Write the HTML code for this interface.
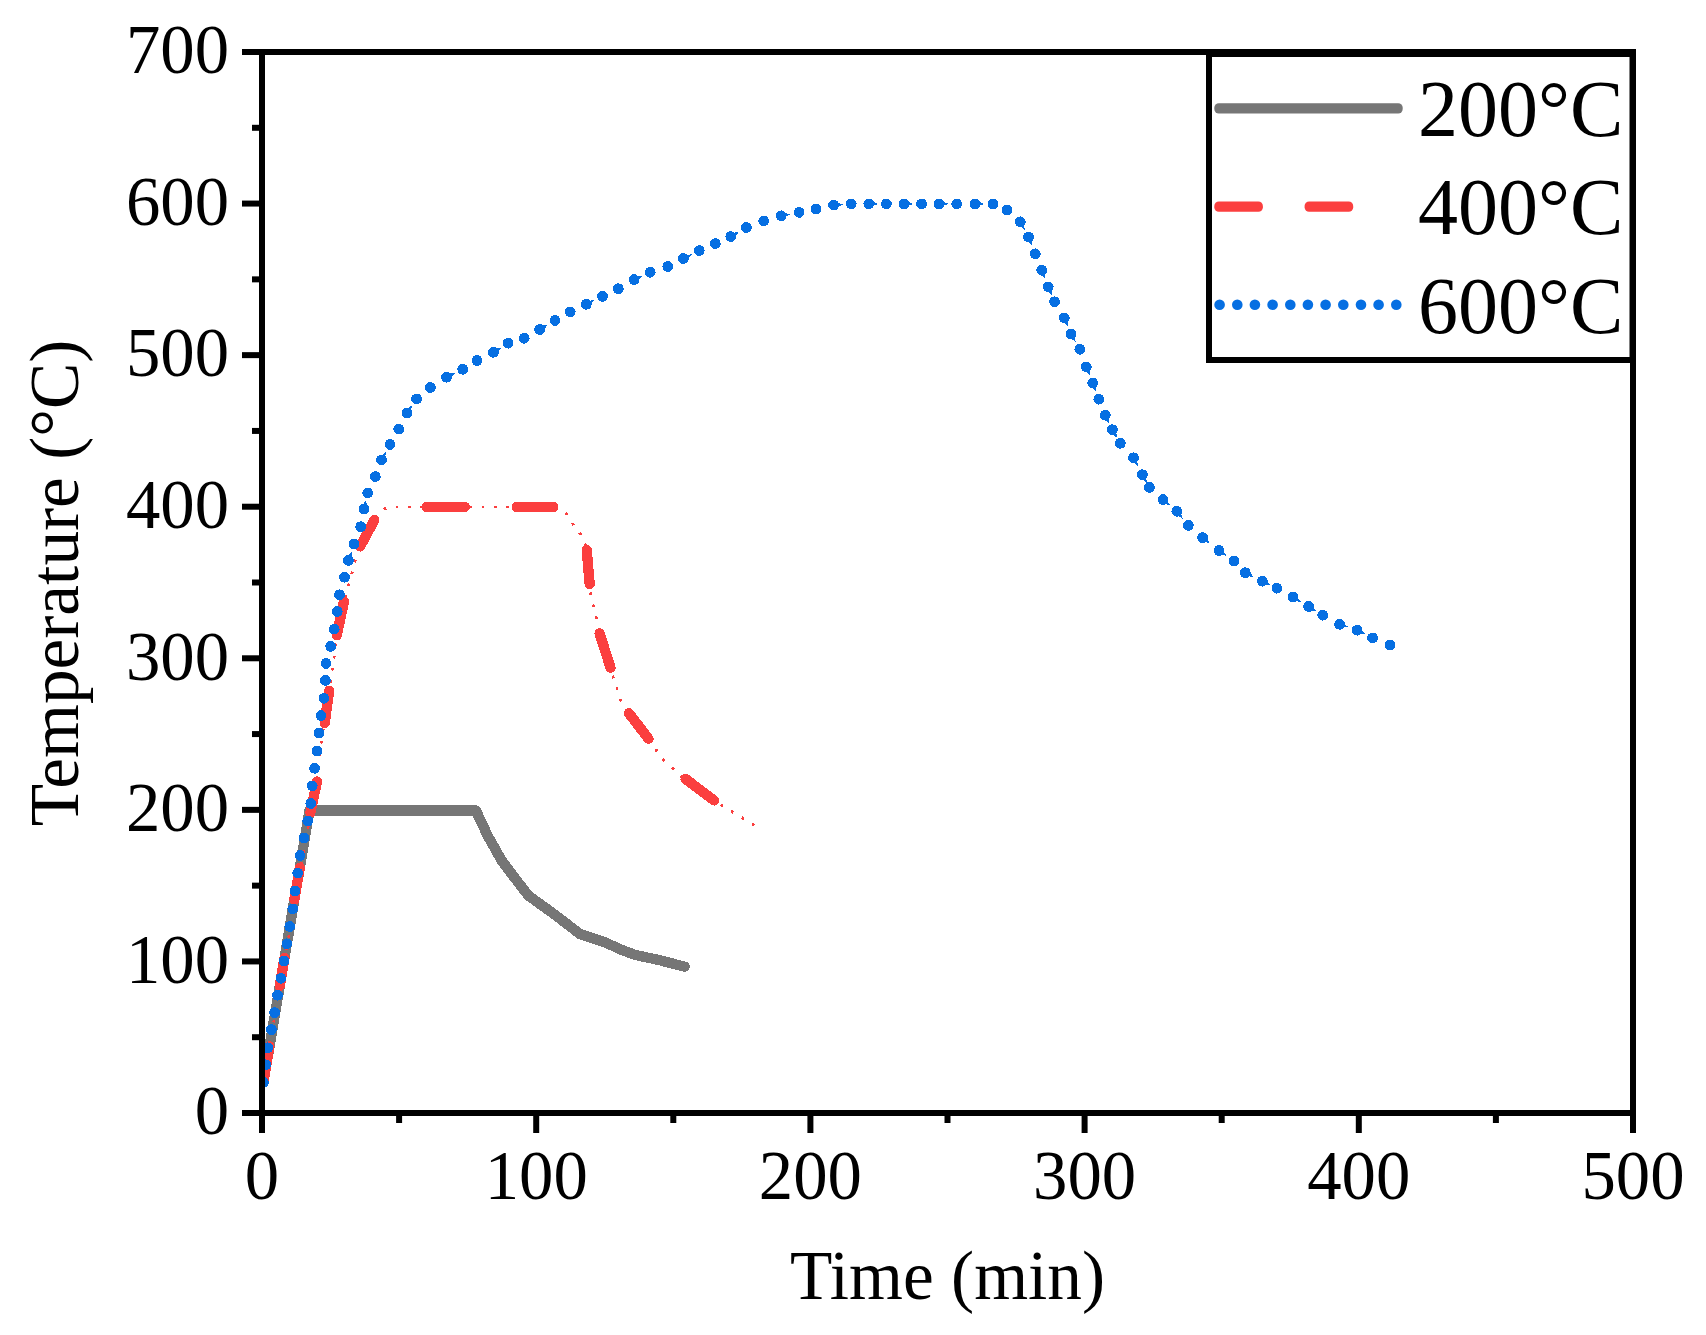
<!DOCTYPE html>
<html lang="en"><head><meta charset="utf-8"><title>Temperature vs Time</title>
<style>
html,body{margin:0;padding:0;background:#fff;}
body{width:1706px;height:1335px;overflow:hidden;}
svg{display:block;}
text{font-family:"Liberation Serif", "Times New Roman", serif;fill:#000;}
.tk{font-size:70.5px;}
.tt{font-size:69.3px;}
.lg{font-size:80px;}
</style></head><body>
<svg width="1706" height="1335" viewBox="0 0 1706 1335">
<rect width="1706" height="1335" fill="#fff"/>
<defs><clipPath id="plot"><rect x="262" y="52" width="1371" height="1061"/></clipPath></defs>

<g clip-path="url(#plot)" shape-rendering="crispEdges">
<polyline fill="none" stroke="#767676" stroke-width="10.3" stroke-linejoin="round" stroke-linecap="round" points="263.4,1082.4 309.5,810.5 475.9,810.5 487.8,836.0 501.8,860.8 514.2,877.2 528.2,895.4 555.4,915.1 580.1,934.1 604.8,942.3 621.3,949.7 634.5,954.7 660.8,960.5 684.7,966.7"/>
<polyline fill="none" stroke="#FB3F3F" stroke-width="2.8" stroke-dasharray="2.8 9.5" points="263.0,1083.0 310.8,812.0 328.4,694.5 340.1,618.3 357.7,550.9 366.5,533.3 376.7,515.7 381.0,510.5 387.0,507.8 395.0,506.9 558.4,506.9 565.0,511.0 568.7,518.6 576.0,528.0 581.9,536.2 586.3,547.9 588.0,566.0 589.2,586.0 592.5,603.0 596.5,618.3 599.5,630.0 611.2,671.0 621.4,701.8 627.3,710.6 650.7,741.4 661.0,757.5 683.0,778.0 716.7,802.3 756.3,826.4"/>
<rect x="0" y="-5.15" width="45.0" height="10.3" rx="5.1" fill="#FB3F3F" transform="translate(262.8,1085.8) rotate(-80.38)"/>
<rect x="0" y="-5.15" width="38.8" height="10.3" rx="5.1" fill="#FB3F3F" transform="translate(278.9,991.0) rotate(-80.38)"/>
<rect x="0" y="-5.15" width="42.6" height="10.3" rx="5.1" fill="#FB3F3F" transform="translate(293.5,904.7) rotate(-80.38)"/>
<rect x="0" y="-5.15" width="42.0" height="10.3" rx="5.1" fill="#FB3F3F" transform="translate(309.3,817.6) rotate(-77.91)"/>
<rect x="0" y="-5.15" width="42.9" height="10.3" rx="5.1" fill="#FB3F3F" transform="translate(324.0,728.2) rotate(-82.23)"/>
<rect x="0" y="-5.15" width="44.9" height="10.3" rx="5.1" fill="#FB3F3F" transform="translate(335.7,640.2) rotate(-77.91)"/>
<rect x="0" y="-5.15" width="40.0" height="10.3" rx="5.1" fill="#FB3F3F" transform="translate(357.7,550.9) rotate(-61.64)"/>
<rect x="0" y="-5.15" width="48.3" height="10.3" rx="5.1" fill="#FB3F3F" transform="translate(421.6,506.9) rotate(0.00)"/>
<rect x="0" y="-5.15" width="46.9" height="10.3" rx="5.1" fill="#FB3F3F" transform="translate(511.5,506.9) rotate(0.00)"/>
<rect x="0" y="-5.15" width="44.2" height="10.3" rx="5.1" fill="#FB3F3F" transform="translate(586.3,545.0) rotate(85.06)"/>
<rect x="0" y="-5.15" width="46.2" height="10.3" rx="5.1" fill="#FB3F3F" transform="translate(598.0,628.5) rotate(72.23)"/>
<rect x="0" y="-5.15" width="42.4" height="10.3" rx="5.1" fill="#FB3F3F" transform="translate(625.8,709.1) rotate(52.56)"/>
<rect x="0" y="-5.15" width="45.9" height="10.3" rx="5.1" fill="#FB3F3F" transform="translate(681.5,775.9) rotate(36.94)"/>
<g fill="#066FE2"><circle cx="263.4" cy="1082.4" r="5.4"/><circle cx="265.8" cy="1064.8" r="5.4"/><circle cx="267.8" cy="1047.8" r="5.4"/><circle cx="271.4" cy="1029.6" r="5.4"/><circle cx="274.6" cy="1012.6" r="5.4"/><circle cx="277.5" cy="995.3" r="5.4"/><circle cx="281.0" cy="978.3" r="5.4"/><circle cx="284.0" cy="961.0" r="5.4"/><circle cx="286.9" cy="943.8" r="5.4"/><circle cx="289.8" cy="926.5" r="5.4"/><circle cx="292.8" cy="908.9" r="5.4"/><circle cx="295.1" cy="891.0" r="5.4"/><circle cx="297.7" cy="873.1" r="5.4"/><circle cx="300.1" cy="855.5" r="5.4"/><circle cx="304.0" cy="838.0" r="5.4"/><circle cx="307.8" cy="821.0" r="5.4"/><circle cx="310.8" cy="803.5" r="5.4"/><circle cx="312.2" cy="785.9" r="5.4"/><circle cx="314.6" cy="768.3" r="5.4"/><circle cx="316.9" cy="751.0" r="5.4"/><circle cx="319.0" cy="733.2" r="5.4"/><circle cx="321.0" cy="715.6" r="5.4"/><circle cx="324.0" cy="698.3" r="5.4"/><circle cx="325.4" cy="680.4" r="5.4"/><circle cx="326.0" cy="663.4" r="5.4"/><circle cx="330.7" cy="646.4" r="5.4"/><circle cx="334.2" cy="629.1" r="5.4"/><circle cx="337.2" cy="611.5" r="5.4"/><circle cx="339.5" cy="594.8" r="5.4"/><circle cx="344.5" cy="577.2" r="5.4"/><circle cx="348.4" cy="560.4" r="5.4"/><circle cx="354.2" cy="544.0" r="5.4"/><circle cx="360.7" cy="526.7" r="5.4"/><circle cx="363.9" cy="509.1" r="5.4"/><circle cx="367.7" cy="493.0" r="5.4"/><circle cx="375.3" cy="476.6" r="5.4"/><circle cx="381.5" cy="459.9" r="5.4"/><circle cx="390.0" cy="444.4" r="5.4"/><circle cx="398.8" cy="429.1" r="5.4"/><circle cx="407.0" cy="413.0" r="5.4"/><circle cx="416.6" cy="398.9" r="5.4"/><circle cx="430.4" cy="387.5" r="5.4"/><circle cx="446.5" cy="377.2" r="5.4"/><circle cx="462.7" cy="369.3" r="5.4"/><circle cx="477.0" cy="360.5" r="5.4"/><circle cx="493.4" cy="352.3" r="5.4"/><circle cx="508.1" cy="343.2" r="5.4"/><circle cx="524.2" cy="338.3" r="5.4"/><circle cx="539.7" cy="329.5" r="5.4"/><circle cx="555.0" cy="320.4" r="5.4"/><circle cx="570.2" cy="311.9" r="5.4"/><circle cx="586.3" cy="304.3" r="5.4"/><circle cx="602.5" cy="296.4" r="5.4"/><circle cx="618.3" cy="288.7" r="5.4"/><circle cx="634.1" cy="279.6" r="5.4"/><circle cx="650.2" cy="272.3" r="5.4"/><circle cx="667.8" cy="266.5" r="5.4"/><circle cx="683.4" cy="258.5" r="5.4"/><circle cx="699.2" cy="250.6" r="5.4"/><circle cx="715.3" cy="243.6" r="5.4"/><circle cx="730.8" cy="236.6" r="5.4"/><circle cx="746.4" cy="227.5" r="5.4"/><circle cx="763.7" cy="221.0" r="5.4"/><circle cx="781.2" cy="215.8" r="5.4"/><circle cx="799.1" cy="212.4" r="5.4"/><circle cx="816.0" cy="209.2" r="5.4"/><circle cx="833.6" cy="205.1" r="5.4"/><circle cx="851.2" cy="203.9" r="5.4"/><circle cx="868.8" cy="203.9" r="5.4"/><circle cx="886.4" cy="203.9" r="5.4"/><circle cx="904.0" cy="203.9" r="5.4"/><circle cx="921.6" cy="203.9" r="5.4"/><circle cx="939.1" cy="203.9" r="5.4"/><circle cx="956.7" cy="203.9" r="5.4"/><circle cx="974.9" cy="203.9" r="5.4"/><circle cx="993.1" cy="203.9" r="5.4"/><circle cx="1007.1" cy="210.1" r="5.4"/><circle cx="1020.3" cy="221.8" r="5.4"/><circle cx="1028.5" cy="237.0" r="5.4"/><circle cx="1035.3" cy="253.8" r="5.4"/><circle cx="1041.7" cy="270.2" r="5.4"/><circle cx="1048.2" cy="286.9" r="5.4"/><circle cx="1054.6" cy="301.8" r="5.4"/><circle cx="1064.3" cy="317.9" r="5.4"/><circle cx="1071.0" cy="334.1" r="5.4"/><circle cx="1079.8" cy="349.3" r="5.4"/><circle cx="1086.3" cy="366.9" r="5.4"/><circle cx="1092.7" cy="383.0" r="5.4"/><circle cx="1098.8" cy="399.2" r="5.4"/><circle cx="1105.3" cy="415.2" r="5.4"/><circle cx="1112.4" cy="429.7" r="5.4"/><circle cx="1120.3" cy="443.3" r="5.4"/><circle cx="1133.5" cy="457.8" r="5.4"/><circle cx="1142.4" cy="474.7" r="5.4"/><circle cx="1149.4" cy="487.4" r="5.4"/><circle cx="1163.0" cy="499.6" r="5.4"/><circle cx="1176.8" cy="511.3" r="5.4"/><circle cx="1188.3" cy="525.4" r="5.4"/><circle cx="1202.6" cy="537.6" r="5.4"/><circle cx="1219.0" cy="550.5" r="5.4"/><circle cx="1234.0" cy="561.2" r="5.4"/><circle cx="1245.3" cy="572.7" r="5.4"/><circle cx="1262.4" cy="581.2" r="5.4"/><circle cx="1276.9" cy="588.2" r="5.4"/><circle cx="1292.9" cy="597.1" r="5.4"/><circle cx="1308.6" cy="606.5" r="5.4"/><circle cx="1322.7" cy="615.2" r="5.4"/><circle cx="1339.6" cy="624.3" r="5.4"/><circle cx="1357.1" cy="630.2" r="5.4"/><circle cx="1372.6" cy="637.9" r="5.4"/><circle cx="1390.0" cy="645.0" r="5.4"/></g>
<g fill="#066FE2"><polygon points="351.7,558.4 347.1,556.8 351.6,551.4"/><polygon points="366.9,506.7 362.3,505.6 366.1,499.9"/><polygon points="385.0,458.4 380.8,456.1 386.1,451.6"/><polygon points="410.7,411.9 406.7,409.2 412.3,405.1"/><polygon points="450.2,378.0 448.1,373.7 455.0,373.0"/><polygon points="497.2,352.8 494.7,348.7 501.5,347.3"/><polygon points="543.5,330.0 541.1,325.9 547.9,324.6"/><polygon points="590.0,305.1 587.9,300.8 594.8,300.1"/><polygon points="637.8,280.5 635.8,276.2 642.8,275.7"/><polygon points="687.2,259.3 685.0,255.0 691.9,254.3"/><polygon points="734.6,237.2 732.2,233.0 739.0,231.8"/><polygon points="784.6,217.6 783.7,212.9 790.5,214.0"/><polygon points="836.8,207.3 836.4,202.5 843.1,204.5"/><polygon points="871.8,206.3 871.8,201.5 878.3,203.9"/><polygon points="907.0,206.3 907.0,201.5 913.5,203.9"/><polygon points="942.1,206.3 942.1,201.5 948.6,203.9"/><polygon points="977.9,206.3 977.9,201.5 984.4,203.9"/><polygon points="1019.6,225.6 1023.8,223.3 1024.8,230.2"/><polygon points="1027.4,240.7 1031.9,238.9 1032.1,245.8"/><polygon points="1040.6,273.9 1045.0,272.1 1045.1,279.1"/><polygon points="1047.2,290.6 1051.6,288.7 1051.9,295.6"/><polygon points="1063.2,321.6 1067.7,319.8 1067.9,326.7"/><polygon points="1070.4,337.9 1074.6,335.5 1075.8,342.3"/><polygon points="1085.2,370.6 1089.6,368.8 1089.8,375.7"/><polygon points="1091.5,386.7 1096.0,385.0 1096.0,391.9"/><polygon points="1104.5,418.9 1108.8,416.8 1109.5,423.7"/><polygon points="1111.8,433.5 1116.0,431.1 1117.2,437.9"/><polygon points="1132.8,461.6 1137.0,459.3 1137.9,466.2"/><polygon points="1141.7,478.5 1146.0,476.2 1147.0,483.0"/><polygon points="1163.7,503.4 1166.8,499.7 1170.2,505.7"/><polygon points="1176.8,515.1 1180.6,512.1 1182.8,518.7"/><polygon points="1203.5,541.3 1206.4,537.6 1210.1,543.5"/><polygon points="1220.0,554.2 1222.8,550.3 1226.7,556.0"/><polygon points="1246.9,576.2 1249.1,571.9 1253.8,576.9"/><polygon points="1264.1,584.7 1266.1,580.3 1271.0,585.3"/><polygon points="1294.2,600.7 1296.7,596.6 1301.1,602.0"/><polygon points="1309.9,610.1 1312.4,606.0 1316.7,611.5"/><polygon points="1341.7,627.5 1343.2,623.0 1348.6,627.3"/><polygon points="1358.7,633.7 1360.9,629.4 1365.6,634.4"/></g>
</g>
<g stroke="#000" stroke-width="6" fill="none" stroke-linecap="butt">
<rect x="262" y="52" width="1371" height="1061"/>
<line x1="242" y1="1113.00" x2="262" y2="1113.00"/>
<line x1="252" y1="1037.21" x2="262" y2="1037.21"/>
<line x1="242" y1="961.43" x2="262" y2="961.43"/>
<line x1="252" y1="885.64" x2="262" y2="885.64"/>
<line x1="242" y1="809.86" x2="262" y2="809.86"/>
<line x1="252" y1="734.07" x2="262" y2="734.07"/>
<line x1="242" y1="658.29" x2="262" y2="658.29"/>
<line x1="252" y1="582.50" x2="262" y2="582.50"/>
<line x1="242" y1="506.71" x2="262" y2="506.71"/>
<line x1="252" y1="430.93" x2="262" y2="430.93"/>
<line x1="242" y1="355.14" x2="262" y2="355.14"/>
<line x1="252" y1="279.36" x2="262" y2="279.36"/>
<line x1="242" y1="203.57" x2="262" y2="203.57"/>
<line x1="252" y1="127.79" x2="262" y2="127.79"/>
<line x1="242" y1="52.00" x2="262" y2="52.00"/>
<line x1="262.00" y1="1113" x2="262.00" y2="1133"/>
<line x1="399.10" y1="1113" x2="399.10" y2="1123"/>
<line x1="536.20" y1="1113" x2="536.20" y2="1133"/>
<line x1="673.30" y1="1113" x2="673.30" y2="1123"/>
<line x1="810.40" y1="1113" x2="810.40" y2="1133"/>
<line x1="947.50" y1="1113" x2="947.50" y2="1123"/>
<line x1="1084.60" y1="1113" x2="1084.60" y2="1133"/>
<line x1="1221.70" y1="1113" x2="1221.70" y2="1123"/>
<line x1="1358.80" y1="1113" x2="1358.80" y2="1133"/>
<line x1="1495.90" y1="1113" x2="1495.90" y2="1123"/>
<line x1="1633.00" y1="1113" x2="1633.00" y2="1133"/>
</g>
<text class="tk" transform="translate(229,1134.2) scale(0.975,1)" text-anchor="end">0</text>
<text class="tk" transform="translate(229,982.6) scale(0.975,1)" text-anchor="end">100</text>
<text class="tk" transform="translate(229,831.1) scale(0.975,1)" text-anchor="end">200</text>
<text class="tk" transform="translate(229,679.5) scale(0.975,1)" text-anchor="end">300</text>
<text class="tk" transform="translate(229,527.9) scale(0.975,1)" text-anchor="end">400</text>
<text class="tk" transform="translate(229,376.3) scale(0.975,1)" text-anchor="end">500</text>
<text class="tk" transform="translate(229,224.8) scale(0.975,1)" text-anchor="end">600</text>
<text class="tk" transform="translate(229,73.2) scale(0.975,1)" text-anchor="end">700</text>
<text class="tk" transform="translate(262.0,1198.7) scale(0.975,1)" text-anchor="middle">0</text>
<text class="tk" transform="translate(536.2,1198.7) scale(0.975,1)" text-anchor="middle">100</text>
<text class="tk" transform="translate(810.4,1198.7) scale(0.975,1)" text-anchor="middle">200</text>
<text class="tk" transform="translate(1084.6,1198.7) scale(0.975,1)" text-anchor="middle">300</text>
<text class="tk" transform="translate(1358.8,1198.7) scale(0.975,1)" text-anchor="middle">400</text>
<text class="tk" transform="translate(1633.0,1198.7) scale(0.975,1)" text-anchor="middle">500</text>
<text class="tt" x="947.5" y="1299" text-anchor="middle">Time (min)</text>
<text class="tt" transform="translate(77.5,583) rotate(-90)" text-anchor="middle">Temperature (°C)</text>
<rect x="1209" y="54" width="423.5" height="306" fill="#fff" stroke="#000" stroke-width="6"/>
<rect x="0" y="-5.15" width="188.4" height="10.3" rx="4.5" fill="#767676" transform="translate(1214.3,108.4) rotate(0.00)"/>
<rect x="0" y="-5.15" width="48.6" height="10.3" rx="4.5" fill="#FB3F3F" transform="translate(1214.3,206.6) rotate(0.00)"/>
<rect x="0" y="-5.15" width="48.6" height="10.3" rx="4.5" fill="#FB3F3F" transform="translate(1304.6,206.6) rotate(0.00)"/>
<g fill="#066FE2"><circle cx="1219.6" cy="304.7" r="5.3"/><circle cx="1237.3" cy="304.7" r="5.3"/><circle cx="1254.9" cy="304.7" r="5.3"/><circle cx="1272.6" cy="304.7" r="5.3"/><circle cx="1290.3" cy="304.7" r="5.3"/><circle cx="1307.9" cy="304.7" r="5.3"/><circle cx="1325.6" cy="304.7" r="5.3"/><circle cx="1343.3" cy="304.7" r="5.3"/><circle cx="1361.0" cy="304.7" r="5.3"/><circle cx="1378.6" cy="304.7" r="5.3"/><circle cx="1396.3" cy="304.7" r="5.3"/></g>
<text class="lg" x="1418" y="135.5">200°C</text>
<text class="lg" x="1418" y="234.1">400°C</text>
<text class="lg" x="1418" y="332.7">600°C</text>
</svg></body></html>
